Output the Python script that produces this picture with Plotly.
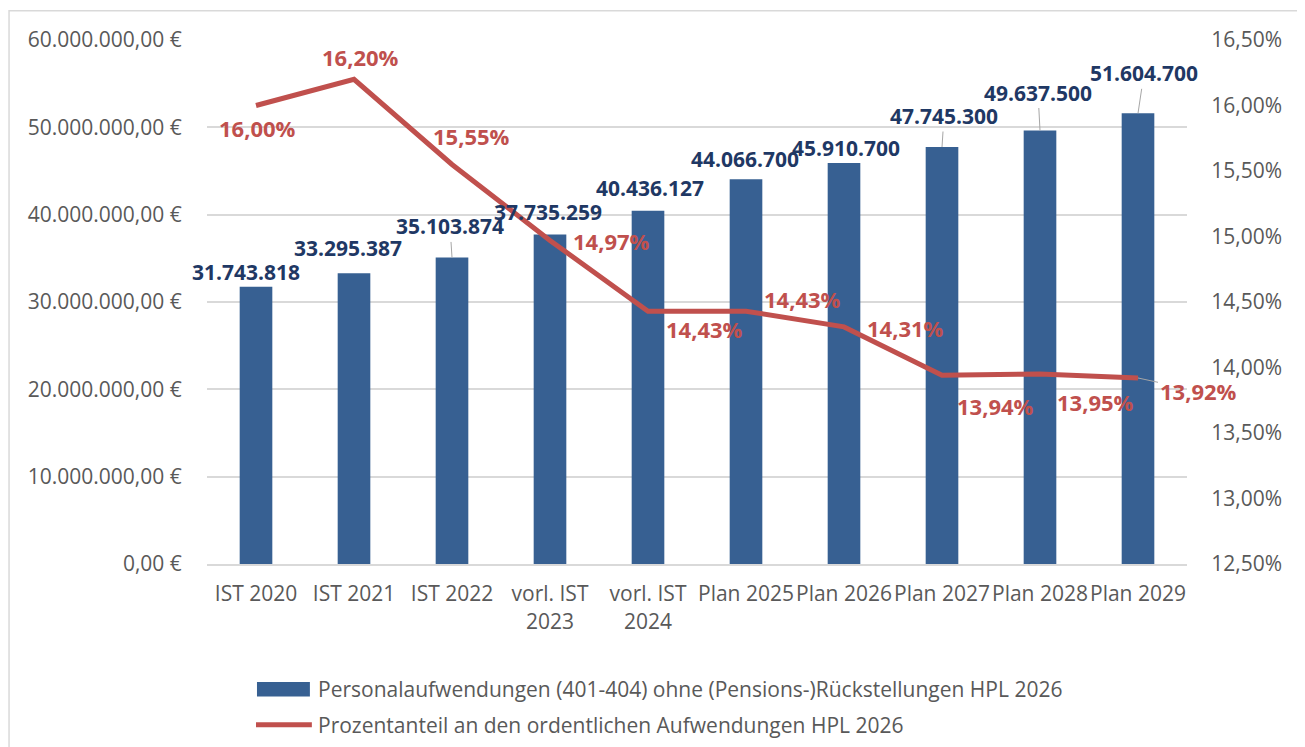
"""Personalaufwendungen vs. Anteil an den ordentlichen Aufwendungen (HPL 2026)."""

import plotly.graph_objects as go

# ---- data -----------------------------------------------------------------
categories = [
    "IST 2020", "IST 2021", "IST 2022", "vorl. IST<br>2023", "vorl. IST<br>2024",
    "Plan 2025", "Plan 2026", "Plan 2027", "Plan 2028", "Plan 2029",
]
personal = [
    31743818, 33295387, 35103874, 37735259, 40436127,
    44066700, 45910700, 47745300, 49637500, 51604700,
]
anteil = [0.1600, 0.1620, 0.1555, 0.1497, 0.1443, 0.1443, 0.1431, 0.1394, 0.1395, 0.1392]

bar_name = "Personalaufwendungen (401-404) ohne (Pensions-)Rückstellungen HPL 2026"
line_name = "Prozentanteil an den ordentlichen Aufwendungen HPL 2026"

# ---- styling --------------------------------------------------------------
BAR = "#376092"
NAVY = "#1F3864"
RED = "#C0504D"
GREY = "#595959"
GRID = "#D9D9D9"
FONT = "Open Sans, Noto Sans, sans-serif"

# label placement (pixel offsets from the mark). "lead" = leader line.
bar_label_pos = [
    ("shift", -10, 15), ("shift", -6, 25), ("lead", -2, -31), ("shift", -2, 22),
    ("shift", 2, 23), ("shift", -1, 20), ("shift", 2, 15), ("lead", 2, -31),
    ("lead", -2, -38), ("lead", 6, -40),
]
line_label_pos = [
    ("shift", 1, -22), ("shift", 6, 22), ("shift", 19, 28), ("shift", 61, -1),
    ("shift", 56, -18), ("shift", 56, 12), ("shift", 61, -1), ("shift", 53, -31),
    ("shift", 55, -28), ("lead", 60, 13),
]


def de_int(v):
    return f"{v:,.0f}".replace(",", ".")


def de_pct(v):
    return f"{v * 100:.2f}%".replace(".", ",")


def label(x, y, yref, text, color, size, pos):
    kind, dx, dy = pos
    ann = dict(
        x=x, y=y, xref="x", yref=yref, text=f"<b>{text}</b>",
        font=dict(family=FONT, size=size, color=color),
    )
    if kind == "lead":
        ann.update(showarrow=True, arrowhead=0, arrowwidth=1, arrowcolor="#A6A6A6",
                   ax=dx, ay=dy, standoff=0)
    else:
        ann.update(showarrow=False, xshift=dx, yshift=dy)
    return ann


fig = go.Figure()
fig.add_trace(go.Bar(
    x=categories, y=personal, name=bar_name,
    marker=dict(color=BAR, line=dict(width=0)),
    showlegend=False,
))
fig.add_trace(go.Scatter(
    x=categories, y=anteil, name=line_name, yaxis="y2", mode="lines",
    line=dict(color=RED, width=5),
    showlegend=False,
))

annotations = []
for c, v, p in zip(categories, personal, bar_label_pos):
    annotations.append(label(c, v, "y", de_int(v), NAVY, 21, p))
for c, v, p in zip(categories, anteil, line_label_pos):
    annotations.append(label(c, v, "y2", de_pct(v), RED, 22, p))

# hand-drawn legend (Excel style wide swatches)
legend_font = dict(family=FONT, size=21, color=GREY)
annotations += [
    dict(x=0.111, y=-0.239, xref="paper", yref="paper", text=bar_name,
         showarrow=False, xanchor="left", yanchor="middle", font=legend_font),
    dict(x=0.111, y=-0.307, xref="paper", yref="paper", text=line_name,
         showarrow=False, xanchor="left", yanchor="middle", font=legend_font),
]
shapes = [
    dict(type="rect", xref="paper", yref="paper", x0=0.051, x1=0.105,
         y0=-0.253, y1=-0.225, fillcolor=BAR, line=dict(width=0)),
    dict(type="line", xref="paper", yref="paper", x0=0.050, x1=0.107,
         y0=-0.307, y1=-0.307, line=dict(color=RED, width=5)),
    # chart frame
    dict(type="rect", xref="paper", yref="paper", x0=-0.202, x1=1.113,
         y0=-0.40, y1=1.056, line=dict(color=GRID, width=1.5), layer="below"),
]

# page body has an 8px margin (top/left), so the figure is 8px smaller
fig.update_layout(
    width=1297, height=739,
    margin=dict(l=199, r=118, t=32, b=183),
    paper_bgcolor="white", plot_bgcolor="white",
    separators=",.",
    font=dict(family=FONT, size=21, color=GREY),
    bargap=0.667,
    annotations=annotations,
    shapes=shapes,
    showlegend=False,
)
fig.update_xaxes(
    type="category", range=[-0.5, len(categories) - 0.5], autorange=False,
    showgrid=False, showline=True, linecolor=GRID, linewidth=2,
    ticks="outside", ticklen=10, tickcolor="white",
    tickfont=dict(family=FONT, size=21, color=GREY),
)
fig.update_yaxes(
    range=[0, 60000000], dtick=10000000, tickformat=",.2f", ticksuffix=" €",
    showgrid=True, gridcolor=GRID, gridwidth=1.5, zeroline=False, showline=False,
    ticks="outside", ticklen=20, tickcolor="white",
    tickfont=dict(family=FONT, size=21, color=GREY),
)
fig.update_layout(yaxis2=dict(
    overlaying="y", side="right", range=[0.125, 0.165], dtick=0.005,
    tickformat=".2%", showgrid=False, zeroline=False, showline=False,
    ticks="outside", ticklen=19, tickcolor="white",
    tickfont=dict(family=FONT, size=21, color=GREY),
))

fig.write_html("out.html")
